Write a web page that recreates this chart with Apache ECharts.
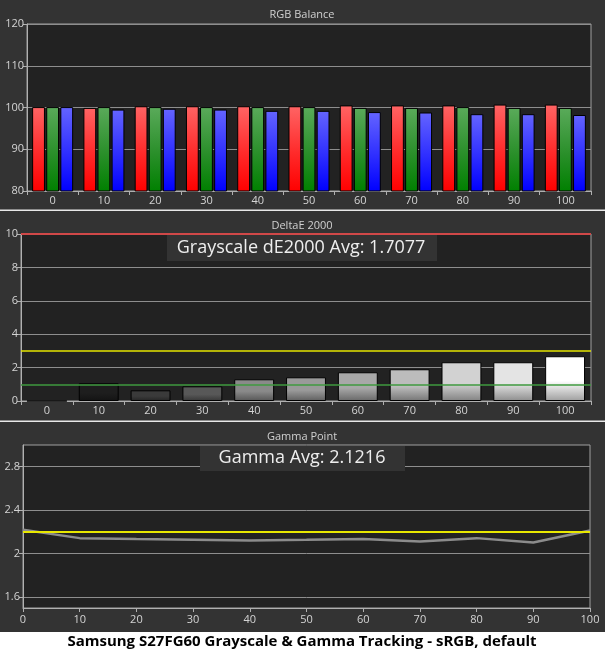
<!DOCTYPE html>
<html><head><meta charset="utf-8">
<script src="https://cdn.jsdelivr.net/npm/echarts@6/dist/echarts.min.js"></script>
<style>html,body{margin:0;padding:0;background:#333;}#c{width:605px;height:652px;}</style>
</head><body><div id="c"></div><script>
// ---- data ----
const levels = ['0','10','20','30','40','50','60','70','80','90','100'];
const rgbRed   = [100.1, 99.9, 100.3, 100.3, 100.3, 100.3, 100.5, 100.5, 100.5, 100.7, 100.7];
const rgbGreen = [100.1, 100.1, 100.1, 100.1, 100.1, 100.1, 99.9, 99.9, 100.1, 99.9, 99.9];
const rgbBlue  = [100.1, 99.5, 99.7, 99.5, 99.2, 99.2, 98.9, 98.8, 98.4, 98.4, 98.2];
const deltaE   = [0, 1.06, 0.64, 0.88, 1.3, 1.42, 1.72, 1.9, 2.32, 2.32, 2.68];
const deltaLimits = [10, 3, 1];
const gammaX      = [0, 10, 20, 30, 40, 50, 60, 70, 80, 90, 100];
const gammaValues = [2.22, 2.143, 2.134, 2.127, 2.121, 2.127, 2.136, 2.112, 2.143, 2.102, 2.213];
const gammaTarget = 2.2;
const gammaTicks  = [1.6, 2, 2.4, 2.8];
const rgbTicks    = [80, 120, 10];
const deltaAvgText = 'Grayscale dE2000 Avg: 1.7077';
const gammaAvgText = 'Gamma Avg: 2.1216';
const titles = ['RGB Balance', 'DeltaE 2000', 'Gamma Point'];
const footer = 'Samsung S27FG60 Grayscale & Gamma Tracking - sRGB, default';

// ---- styles ----
const grayShades = ['#000000','#1e1e1e','#3a3a3a','#585858','#8a8a8a','#9a9a9a','#a8a8a8','#bcbcbc','#d2d2d2','#e4e4e4','#ffffff'];
function darken(hex, f){
  const n = parseInt(hex.slice(1),16);
  const r = Math.round(((n>>16)&255)*f), g = Math.round(((n>>8)&255)*f), b = Math.round((n&255)*f);
  return 'rgb('+r+','+g+','+b+')';
}
function vgrad(top, mid, bottom){
  return {type:'linear',x:0,y:0,x2:0,y2:1,colorStops:[{offset:0,color:top},{offset:0.55,color:mid},{offset:1,color:bottom}]};
}
const FONT = 'Open Sans';
const axisLbl = {color:'#d4d4d4', fontSize:11, fontFamily:FONT};
const gridLine = {show:true, lineStyle:{color:'#8e8e8e', width:1}};
const axLine = {show:true, lineStyle:{color:'#b0b0b0', width:1}};
const axTick = {show:true, length:4, lineStyle:{color:'#b0b0b0'}};

const chart = echarts.init(document.getElementById('c'), null, {renderer:'canvas'});

const option = {
  backgroundColor:'#333333',
  animation:false,
  grid:[
    {left:27, right:14, top:24, height:167, show:true, backgroundColor:'#222222', borderColor:'#a0a0a0', borderWidth:1},
    {left:21, right:14, top:234, height:167, show:true, backgroundColor:'#222222', borderColor:'#a0a0a0', borderWidth:1},
    {left:23, right:15, top:445, height:163, show:true, backgroundColor:'#222222', borderColor:'#a0a0a0', borderWidth:1}
  ],
  xAxis:[
    {type:'category', gridIndex:0, data:levels, axisLine:axLine, axisTick:axTick, axisLabel:Object.assign({margin:4},axisLbl), splitLine:{show:false}},
    {type:'category', gridIndex:1, data:levels, axisLine:axLine, axisTick:axTick, axisLabel:Object.assign({margin:4},axisLbl), splitLine:{show:false}},
    {type:'value', gridIndex:2, min:0, max:100, interval:10, axisLine:axLine, axisTick:axTick, axisLabel:Object.assign({margin:6},axisLbl), splitLine:{show:false}}
  ],
  yAxis:[
    {type:'value', gridIndex:0, min:rgbTicks[0], max:rgbTicks[1], interval:rgbTicks[2], axisLine:axLine, axisTick:axTick, axisLabel:Object.assign({margin:3},axisLbl), splitLine:gridLine},
    {type:'value', gridIndex:1, min:0, max:10, interval:2, axisLine:axLine, axisTick:axTick, axisLabel:Object.assign({margin:3},axisLbl), splitLine:gridLine},
    {type:'value', gridIndex:2, min:1.5, max:3.0,
      axisLine:axLine,
      axisTick:Object.assign({customValues:gammaTicks},axTick),
      axisLabel:Object.assign({margin:3, customValues:gammaTicks},axisLbl),
      splitLine:gridLine}
  ],
  series:[
    {name:'Red', type:'bar', xAxisIndex:0, yAxisIndex:0, data:rgbRed, barGap:'10%', barCategoryGap:'20%',
      itemStyle:{color:vgrad('#ff6464','#ff2a2a','#ff0000'), borderColor:'#000', borderWidth:1}},
    {name:'Green', type:'bar', xAxisIndex:0, yAxisIndex:0, data:rgbGreen, barGap:'10%', barCategoryGap:'20%',
      itemStyle:{color:vgrad('#5aaa5a','#2a8f2a','#008000'), borderColor:'#000', borderWidth:1}},
    {name:'Blue', type:'bar', xAxisIndex:0, yAxisIndex:0, data:rgbBlue, barGap:'10%', barCategoryGap:'20%',
      itemStyle:{color:vgrad('#6464ff','#2e2eff','#0000ff'), borderColor:'#000', borderWidth:1}},
    {name:'dE', type:'bar', xAxisIndex:1, yAxisIndex:1, barCategoryGap:'23%',
      data:deltaE.map((v,i)=>({value:v, itemStyle:{color:vgrad(grayShades[i], grayShades[i], darken(grayShades[i],0.62)), borderColor:'#000', borderWidth:1}})),
      markLine:{silent:true, symbol:'none', label:{show:false}, z:10,
        data:[
          {yAxis:deltaLimits[0], lineStyle:{color:'#d04848', width:2, type:'solid'}},
          {yAxis:deltaLimits[1], lineStyle:{color:'#e6e600', width:1.5, type:'solid'}},
          {yAxis:deltaLimits[2], lineStyle:{color:'#3f9a3f', width:1.5, type:'solid'}}
        ]}
    },
    {name:'Gamma', type:'line', xAxisIndex:2, yAxisIndex:2, data:gammaX.map((x,i)=>[x,gammaValues[i]]),
      symbol:'none', lineStyle:{color:'#8c8c8c', width:2.5}},
    {name:'Target', type:'line', xAxisIndex:2, yAxisIndex:2, data:[[gammaX[0],gammaTarget],[gammaX[gammaX.length-1],gammaTarget]],
      symbol:'none', lineStyle:{color:'#e8e800', width:2}, z:3}
  ],
  graphic:[
    {type:'text', x:302, y:15, style:{text:titles[0], fill:'#d0d0d0', font:'11px "Open Sans"', textAlign:'center', textVerticalAlign:'middle'}},
    {type:'text', x:302, y:226, style:{text:titles[1], fill:'#d0d0d0', font:'11px "Open Sans"', textAlign:'center', textVerticalAlign:'middle'}},
    {type:'text', x:302, y:437, style:{text:titles[2], fill:'#d0d0d0', font:'11px "Open Sans"', textAlign:'center', textVerticalAlign:'middle'}},
    {type:'rect', shape:{x:0, y:209.5, width:605, height:1.5}, style:{fill:'#e8e8e8'}, z:50},
    {type:'rect', shape:{x:0, y:420.5, width:605, height:1.5}, style:{fill:'#e8e8e8'}, z:50},
    {type:'rect', shape:{x:167, y:235, width:270, height:26}, style:{fill:'#333333'}, z:50},
    {type:'text', x:301, y:248, style:{text:deltaAvgText, fill:'#eeeeee', font:'18px "Open Sans"', textAlign:'center', textVerticalAlign:'middle'}, z:51},
    {type:'rect', shape:{x:200, y:446, width:205, height:25}, style:{fill:'#333333'}, z:50},
    {type:'text', x:302, y:458, style:{text:gammaAvgText, fill:'#eeeeee', font:'18px "Open Sans"', textAlign:'center', textVerticalAlign:'middle'}, z:51},
    {type:'rect', shape:{x:0, y:632, width:605, height:20}, style:{fill:'#ffffff'}, z:50},
    {type:'text', x:302, y:642, style:{text:footer, fill:'#000000', font:'bold 15px "Open Sans"', textAlign:'center', textVerticalAlign:'middle'}, z:51}
  ]
};
chart.setOption(option);
</script></body></html>
